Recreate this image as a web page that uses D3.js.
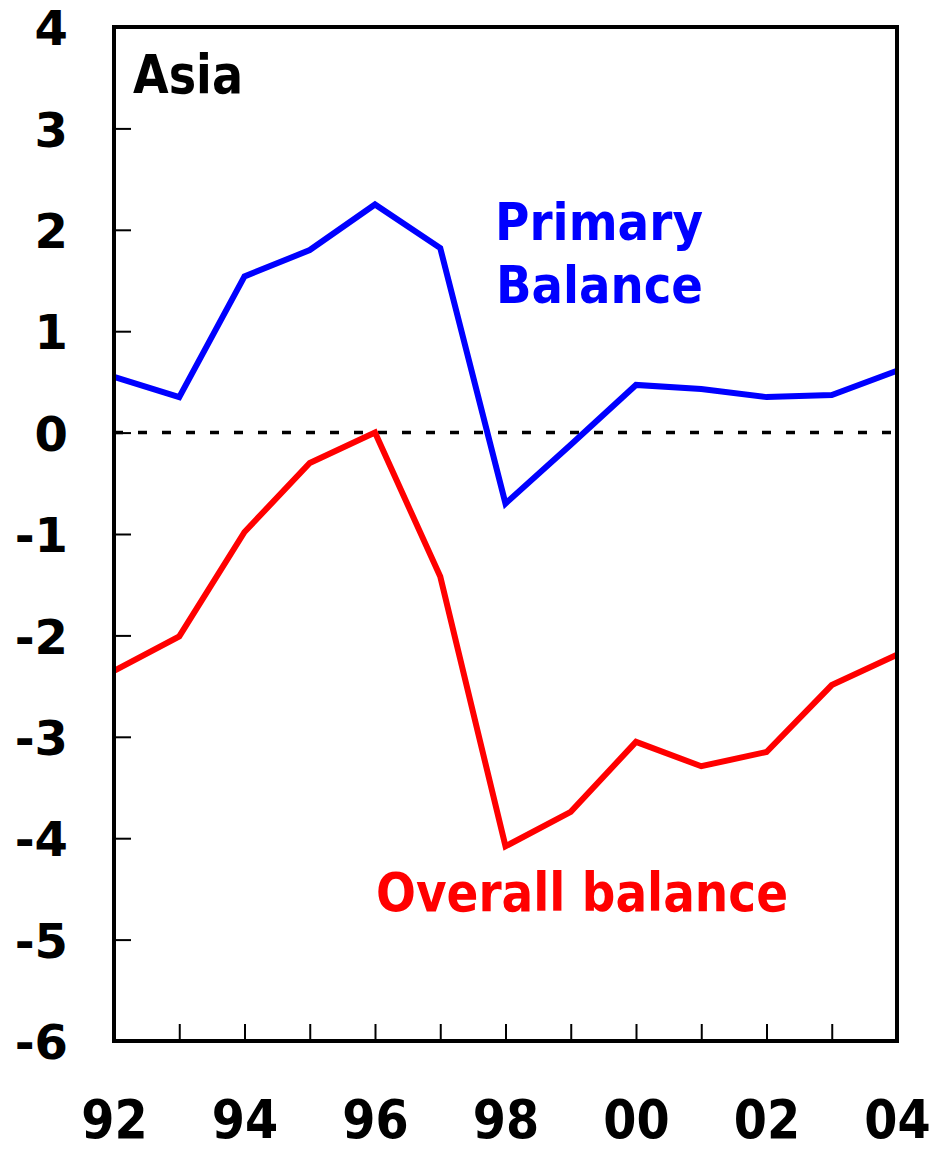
<!DOCTYPE html>
<html>
<head>
<meta charset="utf-8">
<script src="https://cdn.jsdelivr.net/npm/d3@7/dist/d3.min.js"></script>
<style>
  html, body { margin: 0; padding: 0; background: #fff; }
  svg text { font-family: "DejaVu Sans", Verdana, sans-serif; font-weight: bold; }
  .cond { font-stretch: condensed; }
</style>
</head>
<body>
<svg id="chart" width="934" height="1151"></svg>
<script>
const years = [1992, 1993, 1994, 1995, 1996, 1997, 1998, 1999, 2000, 2001, 2002, 2003, 2004];
const primaryBalance = [0.55, 0.35, 1.54, 1.80, 2.25, 1.82, -0.70, -0.12, 0.47, 0.43, 0.35, 0.37, 0.61];
const overallBalance = [-2.35, -2.01, -0.98, -0.30, 0.00, -1.42, -4.08, -3.74, -3.05, -3.29, -3.15, -2.49, -2.19];
const yTicks = [4, 3, 2, 1, 0, -1, -2, -3, -4, -5, -6];
const xLabelYears = [1992, 1994, 1996, 1998, 2000, 2002, 2004];
const xLabels = ["92", "94", "96", "98", "00", "02", "04"];
const seriesNames = ["Primary", "Balance"];
const overallName = "Overall balance";
const panelTitle = "Asia";

const svg = d3.select("#chart");
const L = 114, R = 897, T = 27, B = 1041;

const x = d3.scaleLinear().domain([1992, 2004]).range([L, R]);
const y = d3.scaleLinear().domain([-6, 4]).range([B, T]);

// inner y ticks
const yAxis = d3.axisLeft(y).tickValues(yTicks).tickSize(-17).tickPadding(46).tickFormat(d3.format("d"));
const gy = svg.append("g").attr("transform", `translate(${L},0)`).call(yAxis);
gy.select(".domain").remove();
gy.selectAll(".tick line").attr("stroke", "#000").attr("stroke-width", 2);
gy.selectAll(".tick text").attr("fill", "#000").attr("font-size", 48).attr("dy", "0.37em")
  .text(d => d < 0 ? "-" + Math.abs(d) : d);

// inner x ticks (every year)
const xTickAxis = d3.axisBottom(x).tickValues(years.slice(1, -1)).tickSize(-17).tickFormat("");
const gx = svg.append("g").attr("transform", `translate(0,${B})`).call(xTickAxis);
gx.select(".domain").remove();
gx.selectAll(".tick line").attr("stroke", "#000").attr("stroke-width", 2);

// x labels
const xLabAxis = d3.axisBottom(x).tickValues(xLabelYears).tickSize(0).tickPadding(59)
  .tickFormat((d, i) => xLabels[i]);
const gxl = svg.append("g").attr("transform", `translate(0,${B})`).call(xLabAxis);
gxl.select(".domain").remove();
gxl.selectAll(".tick text").attr("class", "cond").attr("fill", "#000").attr("font-size", 53);

// zero line
svg.append("line")
  .attr("x1", x(1992)).attr("x2", x(2004)).attr("y1", y(0)).attr("y2", y(0))
  .attr("stroke", "#000").attr("stroke-width", 3.5).attr("stroke-dasharray", "9,15");

const line = d3.line().x((d, i) => x(years[i])).y(d => y(d));
svg.append("path").datum(overallBalance).attr("d", line)
  .attr("fill", "none").attr("stroke", "#ff0000").attr("stroke-width", 6).attr("stroke-linejoin", "miter");
svg.append("path").datum(primaryBalance).attr("d", line)
  .attr("fill", "none").attr("stroke", "#0000ff").attr("stroke-width", 6).attr("stroke-linejoin", "miter");

// frame
svg.append("rect").attr("x", L).attr("y", T).attr("width", R - L).attr("height", B - T)
  .attr("fill", "none").attr("stroke", "#000").attr("stroke-width", 4);

// texts
svg.append("text").attr("x", 133).attr("y", 93).attr("font-size", 54).attr("fill", "#000")
  .attr("textLength", 110).attr("lengthAdjust", "spacingAndGlyphs").text(panelTitle);
svg.append("text").attr("x", 495).attr("y", 240).attr("font-size", 52).attr("fill", "#0000ff")
  .attr("textLength", 208).attr("lengthAdjust", "spacingAndGlyphs").text(seriesNames[0]);
svg.append("text").attr("x", 496).attr("y", 303).attr("font-size", 52).attr("fill", "#0000ff")
  .attr("textLength", 207).attr("lengthAdjust", "spacingAndGlyphs").text(seriesNames[1]);
svg.append("text").attr("x", 376).attr("y", 911).attr("font-size", 54).attr("fill", "#ff0000")
  .attr("textLength", 412).attr("lengthAdjust", "spacingAndGlyphs").text(overallName);
</script>
</body>
</html>
